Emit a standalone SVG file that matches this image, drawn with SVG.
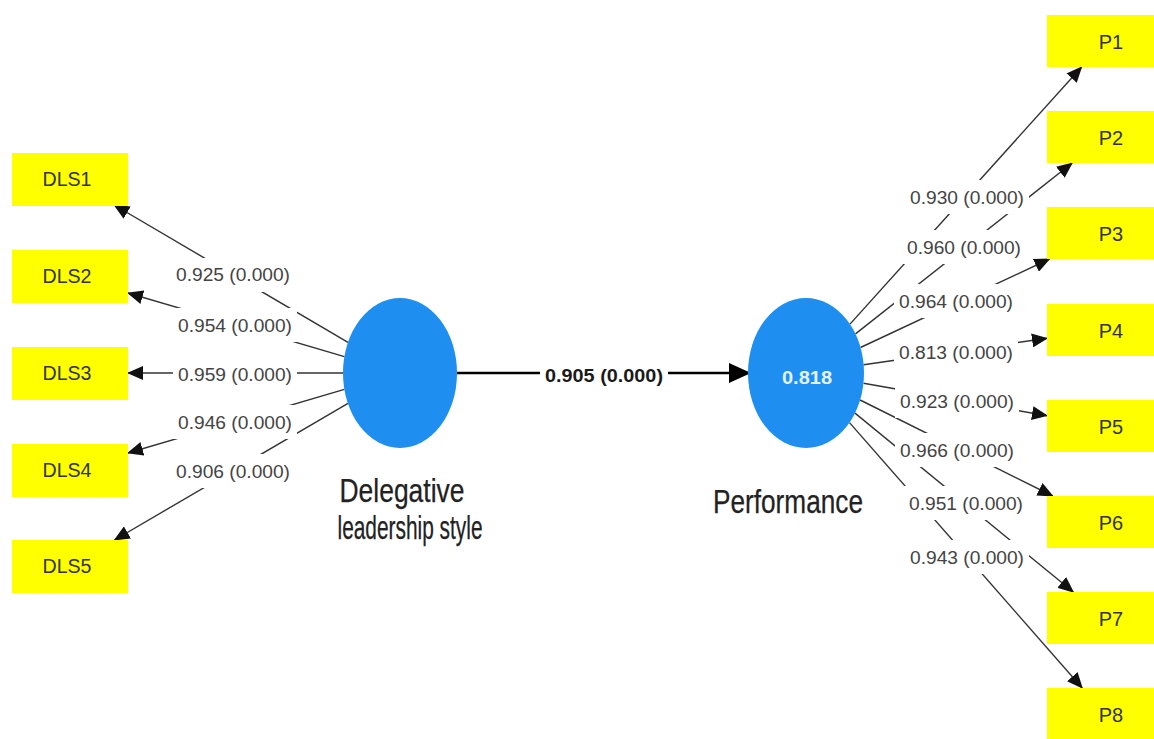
<svg xmlns="http://www.w3.org/2000/svg" width="1154" height="739" viewBox="0 0 1154 739">
  <defs>
    <marker id="arrow" markerUnits="userSpaceOnUse" markerWidth="16" markerHeight="14" refX="15" refY="7" orient="auto">
      <path d="M0,0 L16,7 L0,14 z" fill="#111"/>
    </marker>
    <marker id="arrowBig" markerUnits="userSpaceOnUse" markerWidth="22" markerHeight="20" refX="21" refY="10" orient="auto">
      <path d="M0,0 L22,10 L0,20 z" fill="#000"/>
    </marker>
    <style>
      .indicator { fill: #ffff00; }
      .ind-text { font-family: "Liberation Sans", Arial, sans-serif; font-size: 20px; fill: #333; text-anchor: middle; }
      .latent { fill: #1e8ff0; }
      .latent-name { font-family: "Liberation Sans", Arial, sans-serif; font-size: 33px; fill: #222; stroke: #222; stroke-width: 0.25; text-anchor: middle; }
      .r2 { font-family: "Liberation Sans", Arial, sans-serif; font-size: 18px; font-weight: bold; fill: #e4f2ff; text-anchor: middle; }
      .load { stroke: #333; stroke-width: 1.4; fill: none; }
      .path { stroke: #000; stroke-width: 2.6; fill: none; }
      .lbl-bg { fill: #ffffff; }
      .lbl { font-family: "Liberation Sans", Arial, sans-serif; font-size: 18px; fill: #444; text-anchor: middle; }
      .lbl-path { font-family: "Liberation Sans", Arial, sans-serif; font-size: 18px; font-weight: bold; fill: #1a1a1a; text-anchor: middle; }
    </style>
  </defs>
  <rect width="1154" height="739" fill="#ffffff"/>

  <!-- connectors: outer loadings, inner path, then their labels -->
  <g id="connectors">
    <line class="load" x1="348" y1="342.4" x2="114.2" y2="205" marker-end="url(#arrow)"/>
    <line class="load" x1="344.4" y1="356.6" x2="128" y2="293" marker-end="url(#arrow)"/>
    <line class="load" x1="343" y1="373" x2="128" y2="373" marker-end="url(#arrow)"/>
    <line class="load" x1="344.4" y1="389.4" x2="128" y2="453" marker-end="url(#arrow)"/>
    <line class="load" x1="348" y1="403.4" x2="114.5" y2="540" marker-end="url(#arrow)"/>

    <line class="load" x1="850" y1="324.1" x2="1081.6" y2="67" marker-end="url(#arrow)"/>
    <line class="load" x1="855.5" y1="333.9" x2="1072.1" y2="163" marker-end="url(#arrow)"/>
    <line class="load" x1="860.5" y1="347.5" x2="1049.5" y2="259" marker-end="url(#arrow)"/>
    <line class="load" x1="863.6" y1="364.7" x2="1047" y2="338.3" marker-end="url(#arrow)"/>
    <line class="load" x1="863.5" y1="383.2" x2="1047" y2="415.7" marker-end="url(#arrow)"/>
    <line class="load" x1="860.1" y1="400" x2="1052.8" y2="496" marker-end="url(#arrow)"/>
    <line class="load" x1="855" y1="413.1" x2="1073.3" y2="592" marker-end="url(#arrow)"/>
    <line class="load" x1="849.5" y1="422.6" x2="1082.2" y2="688" marker-end="url(#arrow)"/>

    <line class="path" x1="457" y1="373" x2="750" y2="373" marker-end="url(#arrowBig)"/>

    <g id="labels">
      <rect class="lbl-bg" x="171" y="258" width="124" height="34"/>
      <text class="lbl" x="233" y="281" textLength="114" lengthAdjust="spacingAndGlyphs">0.925 (0.000)</text>
      <rect class="lbl-bg" x="173" y="308" width="124" height="34"/>
      <text class="lbl" x="235" y="332" textLength="114" lengthAdjust="spacingAndGlyphs">0.954 (0.000)</text>
      <rect class="lbl-bg" x="173" y="357" width="124" height="34"/>
      <text class="lbl" x="235" y="381" textLength="114" lengthAdjust="spacingAndGlyphs">0.959 (0.000)</text>
      <rect class="lbl-bg" x="173" y="405" width="124" height="34"/>
      <text class="lbl" x="235" y="429" textLength="114" lengthAdjust="spacingAndGlyphs">0.946 (0.000)</text>
      <rect class="lbl-bg" x="171" y="454" width="124" height="34"/>
      <text class="lbl" x="233" y="478" textLength="114" lengthAdjust="spacingAndGlyphs">0.906 (0.000)</text>

      <rect class="lbl-bg" x="905" y="180" width="124" height="34"/>
      <text class="lbl" x="967" y="204" textLength="114" lengthAdjust="spacingAndGlyphs">0.930 (0.000)</text>
      <rect class="lbl-bg" x="902" y="230" width="124" height="34"/>
      <text class="lbl" x="964" y="254" textLength="114" lengthAdjust="spacingAndGlyphs">0.960 (0.000)</text>
      <rect class="lbl-bg" x="894" y="284" width="124" height="34"/>
      <text class="lbl" x="956" y="308" textLength="114" lengthAdjust="spacingAndGlyphs">0.964 (0.000)</text>
      <rect class="lbl-bg" x="894" y="335" width="124" height="34"/>
      <text class="lbl" x="956" y="359" textLength="114" lengthAdjust="spacingAndGlyphs">0.813 (0.000)</text>
      <rect class="lbl-bg" x="895" y="384" width="124" height="34"/>
      <text class="lbl" x="957" y="408" textLength="114" lengthAdjust="spacingAndGlyphs">0.923 (0.000)</text>
      <rect class="lbl-bg" x="895" y="433" width="124" height="34"/>
      <text class="lbl" x="957" y="457" textLength="114" lengthAdjust="spacingAndGlyphs">0.966 (0.000)</text>
      <rect class="lbl-bg" x="904" y="486" width="124" height="34"/>
      <text class="lbl" x="966" y="510" textLength="114" lengthAdjust="spacingAndGlyphs">0.951 (0.000)</text>
      <rect class="lbl-bg" x="905" y="540" width="124" height="34"/>
      <text class="lbl" x="967" y="564" textLength="114" lengthAdjust="spacingAndGlyphs">0.943 (0.000)</text>

      <rect class="lbl-bg" x="540" y="358" width="128" height="32"/>
      <text class="lbl-path" x="604" y="382" textLength="118" lengthAdjust="spacingAndGlyphs">0.905 (0.000)</text>
    </g>
  </g>

  <!-- latent variables -->
  <g id="delegative">
    <ellipse class="latent" cx="400" cy="373" rx="57" ry="75"/>
    <text class="latent-name" x="402" y="502" textLength="125" lengthAdjust="spacingAndGlyphs">Delegative</text>
    <text class="latent-name" x="410" y="539" textLength="145" lengthAdjust="spacingAndGlyphs">leadership style</text>
  </g>
  <g id="performance">
    <ellipse class="latent" cx="806" cy="373" rx="58" ry="75"/>
    <text class="r2" x="807" y="384" textLength="50" lengthAdjust="spacingAndGlyphs">0.818</text>
    <text class="latent-name" x="788" y="513" textLength="150" lengthAdjust="spacingAndGlyphs">Performance</text>
  </g>

  <!-- indicators of Delegative leadership style -->
  <g id="DLS1"><rect class="indicator" x="12" y="153" width="116" height="53"/><text class="ind-text" x="67" y="186" textLength="49" lengthAdjust="spacingAndGlyphs">DLS1</text></g>
  <g id="DLS2"><rect class="indicator" x="12" y="250" width="116" height="53"/><text class="ind-text" x="67" y="283" textLength="49" lengthAdjust="spacingAndGlyphs">DLS2</text></g>
  <g id="DLS3"><rect class="indicator" x="12" y="347" width="116" height="53"/><text class="ind-text" x="67" y="380" textLength="49" lengthAdjust="spacingAndGlyphs">DLS3</text></g>
  <g id="DLS4"><rect class="indicator" x="12" y="444" width="116" height="53"/><text class="ind-text" x="67" y="477" textLength="49" lengthAdjust="spacingAndGlyphs">DLS4</text></g>
  <g id="DLS5"><rect class="indicator" x="12" y="540" width="116" height="53"/><text class="ind-text" x="67" y="573" textLength="49" lengthAdjust="spacingAndGlyphs">DLS5</text></g>

  <!-- indicators of Performance -->
  <g id="P1"><rect class="indicator" x="1047" y="15" width="116" height="52"/><text class="ind-text" x="1111" y="49">P1</text></g>
  <g id="P2"><rect class="indicator" x="1047" y="111" width="116" height="52"/><text class="ind-text" x="1111" y="145">P2</text></g>
  <g id="P3"><rect class="indicator" x="1047" y="207" width="116" height="52"/><text class="ind-text" x="1111" y="241">P3</text></g>
  <g id="P4"><rect class="indicator" x="1047" y="304" width="116" height="52"/><text class="ind-text" x="1111" y="338">P4</text></g>
  <g id="P5"><rect class="indicator" x="1047" y="400" width="116" height="52"/><text class="ind-text" x="1111" y="434">P5</text></g>
  <g id="P6"><rect class="indicator" x="1047" y="496" width="116" height="52"/><text class="ind-text" x="1111" y="530">P6</text></g>
  <g id="P7"><rect class="indicator" x="1047" y="592" width="116" height="52"/><text class="ind-text" x="1111" y="626">P7</text></g>
  <g id="P8"><rect class="indicator" x="1047" y="688" width="116" height="52"/><text class="ind-text" x="1111" y="722">P8</text></g>
</svg>
